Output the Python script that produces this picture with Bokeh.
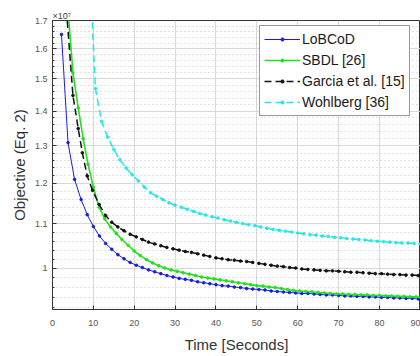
from bokeh.plotting import figure
from bokeh.models import Range1d, FixedTicker, Legend, LegendItem
from bokeh.embed import file_html
from bokeh.resources import INLINE

# ---- data (objective in units of 1e7) ----
t_lobcod = [2.2, 3.8, 5.4, 7.0, 8.5, 10.0, 11.5, 13.0, 14.5, 16.0, 17.5, 19.0, 20.5, 22.0, 23.5,
            25.0, 26.5, 28.0, 29.5, 31.0, 32.5, 34.0, 35.5, 37.0, 38.5, 40.0, 41.5, 43.0, 44.5,
            46.0, 47.5, 49.0, 50.5, 52.0, 53.5, 55.0, 56.5, 58.0, 59.5, 61.0, 62.5, 64.0, 65.5,
            67.0, 68.5, 70.0, 71.5, 73.0, 74.5, 76.0, 77.5, 79.0, 80.5, 82.0, 83.5, 85.0, 86.5,
            88.0, 89.5, 91.0]
obj_lobcod = [1.650, 1.309, 1.210, 1.159, 1.122, 1.094, 1.072, 1.055, 1.042, 1.030, 1.021, 1.013,
              1.007, 1.002, 0.997, 0.993, 0.989, 0.985, 0.982, 0.979, 0.977, 0.975, 0.972, 0.970,
              0.968, 0.966, 0.964, 0.963, 0.961, 0.960, 0.958, 0.957, 0.956, 0.955, 0.953, 0.952,
              0.951, 0.950, 0.949, 0.948, 0.948, 0.947, 0.946, 0.945, 0.945, 0.944, 0.943, 0.943,
              0.942, 0.942, 0.941, 0.941, 0.940, 0.940, 0.939, 0.939, 0.938, 0.938, 0.937, 0.937]

t_sbdl = [3.5, 5.0, 6.3, 7.5, 8.7, 10.0, 11.4, 12.8, 14.2, 15.6, 17.0, 18.5, 20.0, 21.5, 23.0,
          24.5, 26.0, 27.5, 29.0, 30.5, 32.0, 33.5, 35.0, 36.5, 38.0, 39.5, 41.0, 42.5, 44.0,
          45.5, 47.0, 48.5, 50.0, 51.5, 53.0, 54.5, 56.0, 57.5, 59.0, 60.5, 62.0, 63.5, 65.0,
          66.5, 68.0, 69.5, 71.0, 72.5, 74.0, 75.5, 77.0, 78.5, 80.0, 81.5, 83.0, 84.5, 86.0,
          87.5, 89.0, 90.5]
obj_sbdl = [1.80, 1.52, 1.41, 1.32, 1.25, 1.19, 1.14, 1.112, 1.093, 1.078, 1.064, 1.051, 1.038,
            1.028, 1.019, 1.012, 1.006, 1.001, 0.997, 0.994, 0.991, 0.988, 0.985, 0.982, 0.980,
            0.978, 0.976, 0.974, 0.972, 0.970, 0.968, 0.966, 0.964, 0.963, 0.961, 0.960, 0.958,
            0.956, 0.954, 0.953, 0.952, 0.951, 0.950, 0.949, 0.948, 0.947, 0.947, 0.946, 0.946,
            0.945, 0.945, 0.944, 0.944, 0.943, 0.943, 0.942, 0.942, 0.941, 0.941, 0.940]

t_garcia = [3.2, 5.0, 6.3, 7.3, 8.5, 9.8, 11.4, 13.0, 14.5, 16.0, 17.5, 19.0, 20.5, 22.0, 23.5,
            25.0, 26.5, 28.0, 29.5, 31.0, 32.5, 34.0, 35.5, 37.0, 38.5, 40.0, 41.5, 43.0, 44.5,
            46.0, 47.5, 49.0, 50.5, 52.0, 53.5, 55.0, 56.5, 58.0, 59.5, 61.0, 62.5, 64.0, 65.5,
            67.0, 68.5, 70.0, 71.5, 73.0, 74.5, 76.0, 77.5, 79.0, 80.5, 82.0, 83.5, 85.0, 86.5,
            88.0, 89.5, 91.0]
obj_garcia = [1.78, 1.448, 1.349, 1.281, 1.219, 1.182, 1.147, 1.120, 1.104, 1.093, 1.084, 1.076,
              1.070, 1.064, 1.058, 1.054, 1.050, 1.046, 1.043, 1.040, 1.037, 1.035, 1.032, 1.029,
              1.026, 1.023, 1.021, 1.019, 1.018, 1.016, 1.015, 1.013, 1.011, 1.009, 1.007, 1.005,
              1.004, 1.002, 1.001, 0.999, 0.998, 0.997, 0.996, 0.995, 0.995, 0.994, 0.993, 0.992,
              0.992, 0.991, 0.990, 0.989, 0.989, 0.988, 0.987, 0.987, 0.986, 0.986, 0.985, 0.985]

t_wohlberg = [9.0, 10.5, 12.0, 13.5, 15.0, 16.5, 18.0, 19.5, 21.0, 22.5, 24.0, 25.5, 27.0, 28.5,
              30.0, 31.5, 33.0, 34.5, 36.0, 37.5, 39.0, 40.5, 42.0, 43.5, 45.0, 46.5, 48.0, 49.5,
              51.0, 52.5, 54.0, 55.5, 57.0, 58.5, 60.0, 61.5, 63.0, 64.5, 66.0, 67.5, 69.0, 70.5,
              72.0, 73.5, 75.0, 76.5, 78.0, 79.5, 81.0, 82.5, 84.0, 85.5, 87.0, 88.5, 90.0, 91.5]
obj_wohlberg = [1.95, 1.47, 1.37, 1.325, 1.290, 1.262, 1.240, 1.222, 1.206, 1.190, 1.176, 1.167,
                1.159, 1.151, 1.145, 1.140, 1.135, 1.130, 1.125, 1.121, 1.117, 1.114, 1.110, 1.107,
                1.104, 1.101, 1.098, 1.096, 1.093, 1.090, 1.087, 1.085, 1.083, 1.081, 1.079, 1.077,
                1.075, 1.074, 1.072, 1.071, 1.069, 1.068, 1.066, 1.065, 1.064, 1.063, 1.061, 1.060,
                1.059, 1.058, 1.057, 1.056, 1.056, 1.055, 1.054, 1.053]

x_ticks = [0, 10, 20, 30, 40, 50, 60, 70, 80, 90]
y_ticks = [1.0, 1.1, 1.2, 1.3, 1.4, 1.5, 1.6, 1.7]
y_tick_labels = ["1", "1.1", "1.2", "1.3", "1.4", "1.5", "1.6", "1.7"]
y_minor = [0.92, 0.94, 0.96, 0.98, 1.02, 1.04, 1.06, 1.08, 1.12, 1.14, 1.16, 1.18,
           1.22, 1.24, 1.26, 1.28, 1.32, 1.34, 1.36, 1.38, 1.42, 1.44, 1.46, 1.48,
           1.52, 1.54, 1.56, 1.58, 1.62, 1.64, 1.66, 1.68]

series = [
    ("LoBCoD", t_lobcod, obj_lobcod, "#1a1ae6", 1.0, "solid"),
    ("SBDL [26]", t_sbdl, obj_sbdl, "#22e022", 1.6, "solid"),
    ("Garcia et al. [15]", t_garcia, obj_garcia, "#111111", 1.5, "7 4"),
    ("Wohlberg [36]", t_wohlberg, obj_wohlberg, "#22e8e8", 1.5, "7 4"),
]

FONT = "Liberation Sans"

p = figure(width=420, height=355, output_backend="svg", toolbar_location=None,
           y_axis_type="log", x_range=Range1d(0, 90.05), y_range=Range1d(0.916, 1.7),
           min_border_left=52, min_border_right=0, min_border_top=20, min_border_bottom=45,
           background_fill_color="white", border_fill_color="white")

p.title.text = "\u00d710\u2077"
p.title.text_font = FONT
p.title.text_font_size = "9px"
p.title.text_font_style = "normal"
p.title.text_color = "#444444"
p.title.align = "left"
p.title.standoff = 0

p.outline_line_color = "#333333"
p.outline_line_width = 1

p.xaxis.ticker = FixedTicker(ticks=x_ticks, minor_ticks=[])
p.yaxis.ticker = FixedTicker(ticks=y_ticks, minor_ticks=y_minor)
p.yaxis.major_label_overrides = {v: s for v, s in zip(y_ticks, y_tick_labels)}

for ax in (p.xaxis[0], p.yaxis[0]):
    ax.axis_line_color = "#333333"
    ax.major_tick_in = 4
    ax.major_tick_out = 0
    ax.minor_tick_in = 2
    ax.minor_tick_out = 0
    ax.major_tick_line_color = "#333333"
    ax.minor_tick_line_color = "#333333"
    ax.major_label_text_font = FONT
    ax.major_label_text_font_size = "9px"
    ax.major_label_text_color = "#555555"
    ax.axis_label_text_font = FONT
    ax.axis_label_text_font_size = "15px"
    ax.axis_label_text_font_style = "normal"
    ax.axis_label_text_color = "#333333"

p.xaxis.axis_label = "Time [Seconds]"
p.yaxis.axis_label = "Objective (Eq. 2)"
p.xaxis.major_label_standoff = 10
p.xaxis.axis_label_standoff = 7
p.yaxis.major_label_standoff = 5
p.yaxis.axis_label_standoff = 4

p.xgrid.grid_line_color = "#d8d8d8"
p.ygrid.grid_line_color = "#d8d8d8"
p.ygrid.minor_grid_line_color = "#c4c4c4"
p.ygrid.minor_grid_line_dash = "1 3"

items = []
for name, tx, vy, col, lw, dash in series:
    r1 = p.line(tx, vy, line_color=col, line_width=lw, line_dash=dash)
    r2 = p.scatter(tx, vy, marker="circle", size=2.6, fill_color=col, line_color=col)
    items.append(LegendItem(label=name, renderers=[r1, r2]))

legend = Legend(items=items, location=(207, 193), orientation="vertical",
                background_fill_color="white", background_fill_alpha=1.0,
                border_line_color="#333333", border_line_width=1,
                label_text_font=FONT, label_text_font_size="14px", label_text_color="#1a1a1a",
                glyph_width=36, glyph_height=8, label_height=18, spacing=3,
                padding=4, margin=0, label_standoff=2)
p.add_layout(legend)

open("out.html", "w").write(file_html(p, INLINE))
